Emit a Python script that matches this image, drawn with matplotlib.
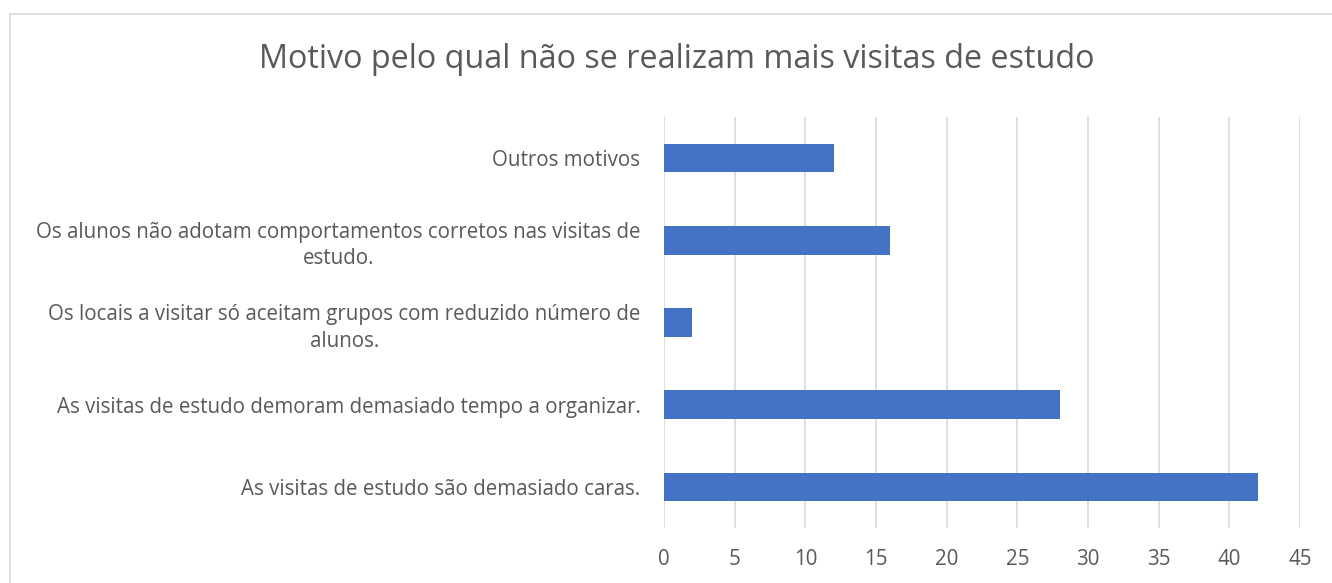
import matplotlib
matplotlib.use('Agg')
import matplotlib.pyplot as plt
from matplotlib.patches import Rectangle

# data, bottom to top as drawn
categories = [
    'As visitas de estudo são demasiado caras.',
    'As visitas de estudo demoram demasiado tempo a organizar.',
    'Os locais a visitar só aceitam grupos com reduzido número de\nalunos.',
    'Os alunos não adotam comportamentos corretos nas visitas de\nestudo.',
    'Outros motivos',
]
values = [42, 28, 2, 16, 12]
xticks = [0, 5, 10, 15, 20, 25, 30, 35, 40, 45]

plt.rcParams['font.family'] = ['Open Sans', 'DejaVu Sans']

W, H = 1332, 583
fig = plt.figure(figsize=(W / 100, H / 100), dpi=100)
ax = fig.add_axes([664 / W, 1 - 528 / H, 636 / W, 411 / H])

ax.barh(range(len(categories)), values, height=0.35, color='#4472C4', zorder=3)

ax.set_xlim(0, 45)
ax.set_ylim(-0.5, len(categories) - 0.5)
ax.set_xticks(xticks)
ax.set_yticks(range(len(categories)))
ax.set_yticklabels(categories)
for lbl in ax.get_yticklabels():
    lbl.set_multialignment('center')
    lbl.set_linespacing(1.35)

ax.grid(axis='x', color='#d9d9d9', linewidth=1.2, zorder=0)
for s in ax.spines.values():
    s.set_visible(False)
ax.tick_params(axis='both', length=0, colors='#595959', labelsize=14.8)
ax.tick_params(axis='x', pad=15)
ax.tick_params(axis='y', pad=17)

fig.text(677 / W, 1 - 60 / H, 'Motivo pelo qual não se realizam mais visitas de estudo',
         ha='center', va='center', fontsize=23.3, color='#595959')

# chart border (cut off at right and bottom in the original)
fig.patches.append(Rectangle((10 / W, -0.1), 2, (H - 14) / H + 0.1,
                             transform=fig.transFigure, fill=False,
                             edgecolor='#d9d9d9', linewidth=1.2))

fig.savefig('out.png', dpi=100)
